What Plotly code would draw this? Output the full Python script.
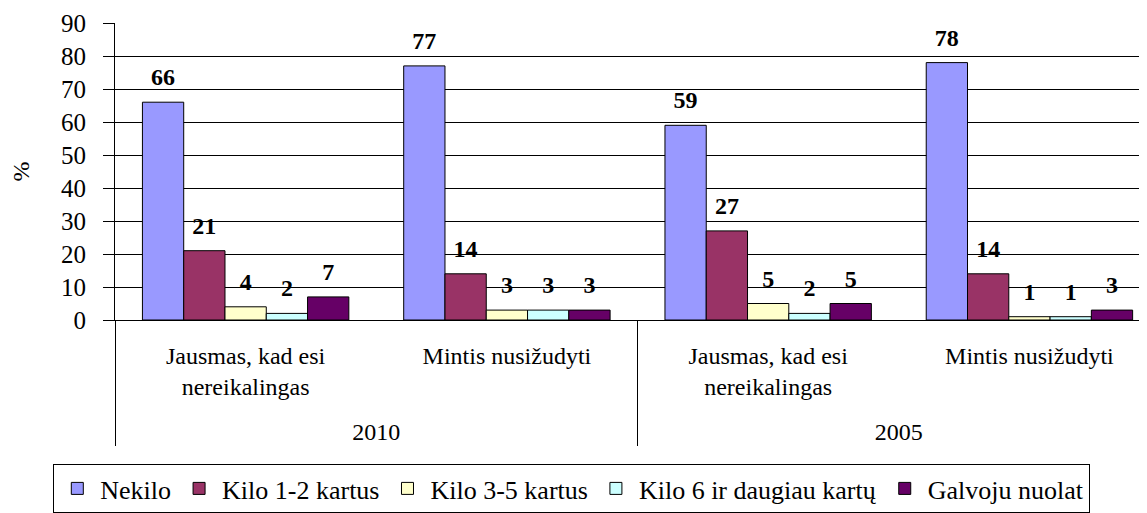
import plotly.graph_objects as go

years = ["<br>2010", "<br>2010", "<br>2005", "<br>2005"]
topics = ["Jausmas, kad esi<br>nereikalingas", "Mintis nusižudyti",
          "Jausmas, kad esi<br>nereikalingas", "Mintis nusižudyti"]

series_names = ["Nekilo", "Kilo 1-2 kartus", "Kilo 3-5 kartus",
                "Kilo 6 ir daugiau kartų", "Galvoju nuolat"]
nekilo = [66, 77, 59, 78]
kilo_1_2 = [21, 14, 27, 14]
kilo_3_5 = [4, 3, 5, 1]
kilo_6 = [2, 3, 2, 1]
galvoju = [7, 3, 5, 3]
series_values = [nekilo, kilo_1_2, kilo_3_5, kilo_6, galvoju]
colors = ["#9999FF", "#993366", "#FFFFCC", "#CCFFFF", "#660066"]

y_ticks = list(range(0, 91, 10))

FONT = "Liberation Serif, Times New Roman, serif"
BARGAP = 0.21

fig = go.Figure()
for name, vals, col in zip(series_names, series_values, colors):
    fig.add_trace(go.Bar(
        x=[years, topics], y=vals, name=name,
        marker=dict(color=col, line=dict(color="black", width=1)),
        offsetgroup=name, hoverinfo="skip",
    ))
for name, vals in zip(series_names, series_values):
    fig.add_trace(go.Scatter(
        x=[years, topics], y=vals, mode="markers+text",
        text=[str(v) for v in vals], textposition="top center",
        textfont=dict(family=FONT, size=24, color="black", weight="bold"),
        marker=dict(size=16, opacity=0),
        offsetgroup=name, showlegend=False, hoverinfo="skip", cliponaxis=False,
    ))

fig.update_layout(
    width=1139, height=505,
    margin=dict(l=107, r=0, t=15, b=193),
    paper_bgcolor="white", plot_bgcolor="white",
    barmode="group", bargap=BARGAP, bargroupgap=0,
    scattermode="group", scattergap=BARGAP,
    font=dict(family=FONT, size=24, color="black"),
    showlegend=True,
    legend=dict(
        orientation="h", xref="container", yref="container",
        x=0.495, xanchor="center", y=0.0, yanchor="bottom",
        bordercolor="black", borderwidth=1,
        font=dict(family=FONT, size=26, color="black"),
        itemwidth=36, traceorder="normal",
    ),
)
fig.update_yaxes(
    range=[0, 90], tickvals=y_ticks, showgrid=True, gridcolor="black", gridwidth=1,
    showline=True, linecolor="black", linewidth=1,
    ticks="outside", ticklen=11, tickcolor="black", ticklabelstandoff=12,
    tickfont=dict(family=FONT, size=25, color="black"),
    title=dict(text="%", font=dict(family=FONT, size=24, color="black"), standoff=30),
    zeroline=False, automargin=False,
)
fig.update_xaxes(
    type="multicategory", range=[-0.5, 3.45],
    showline=True, linecolor="black", linewidth=1,
    showdividers=True, dividercolor="black", dividerwidth=1,
    tickfont=dict(family=FONT, size=24, color="black"),
    ticks="", ticklabelstandoff=14, automargin=False,
)

fig.write_html("out.html")
